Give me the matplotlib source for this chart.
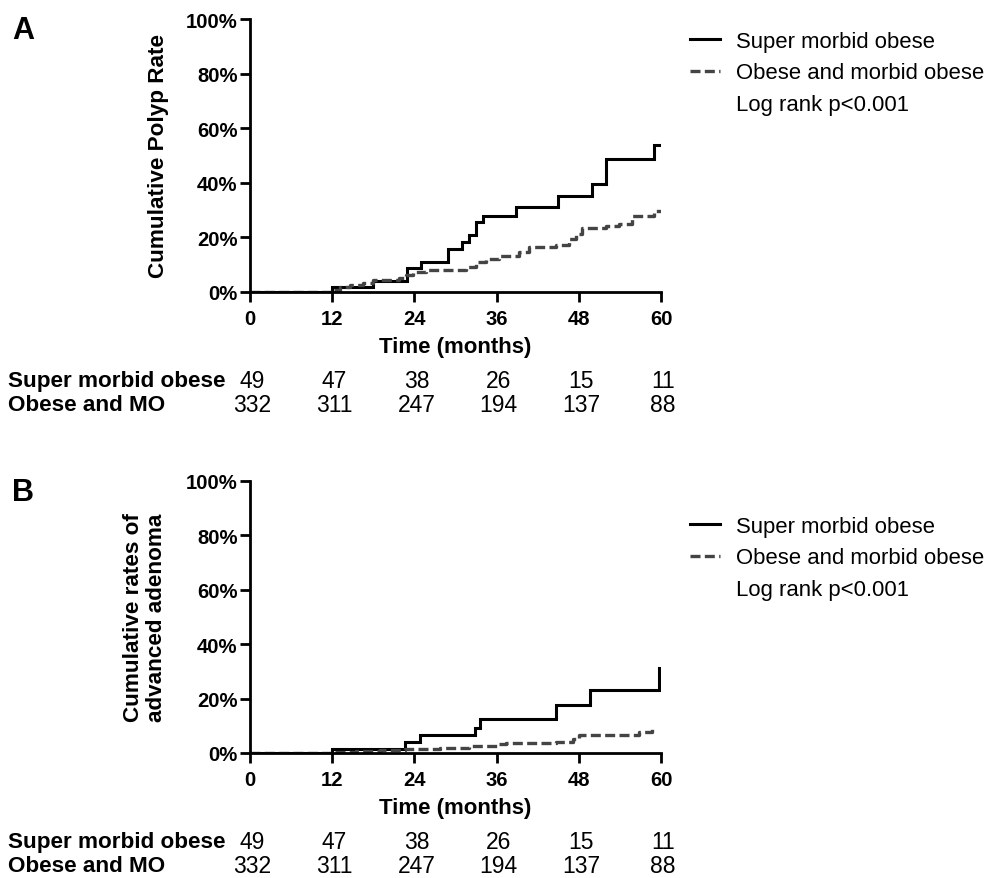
import matplotlib
matplotlib.use("Agg")
import matplotlib.pyplot as plt
from matplotlib.lines import Line2D
from matplotlib.transforms import blended_transform_factory

plt.rcParams['font.family'] = ['Liberation Sans', 'DejaVu Sans']

# Panel A: cumulative polyp rate (%)
a_smo_t = [0, 12, 18.0, 22.9, 24.9, 28.9, 31.0, 31.9, 33.0, 34.0, 38.9, 45.0, 49.9, 51.9, 59.0, 59.8]
a_smo_y = [0, 1.8, 4.0, 8.8, 11.0, 15.7, 18.3, 20.7, 25.5, 28.0, 31.3, 35.2, 39.5, 48.9, 54.0, 54.0]
a_ob_t = [0, 12, 13.1, 14.6, 16.5, 18.0, 21.8, 22.8, 23.8, 25.7, 31.6, 33.0, 34.5, 36.4, 39.3,
          40.8, 44.7, 46.6, 47.6, 48.5, 51.9, 53.9, 55.8, 57.8, 59.0, 60.0]
a_ob_y = [0, 0.9, 1.8, 2.7, 3.4, 4.3, 5.1, 6.3, 7.3, 7.9, 9.1, 11.0, 12.0, 13.2, 14.6,
          16.5, 17.3, 19.5, 21.3, 23.5, 24.0, 25.0, 27.7, 28.0, 29.8, 30.1]

# Panel B: cumulative rates of advanced adenoma (%)
b_smo_t = [0, 12, 22.7, 24.8, 32.8, 33.6, 44.7, 49.7, 59.7, 59.7]
b_smo_y = [0, 1.6, 4.0, 6.5, 9.3, 12.4, 17.5, 23.1, 23.1, 31.3]
b_ob_t = [0, 12, 15.5, 19.0, 22.7, 23.8, 27.7, 32.0, 36.4, 37.4, 44.7, 47.1, 48.1, 54.4,
          56.8, 58.7, 59.0]
b_ob_y = [0, 0.3, 0.6, 1.0, 1.3, 1.6, 2.0, 2.5, 3.2, 3.7, 3.9, 5.0, 6.5, 6.7,
          7.7, 9.0, 9.4]

# numbers at risk
risk_t = [0, 12, 24, 36, 48, 60]
risk_smo = [49, 47, 38, 26, 15, 11]
risk_ob = [332, 311, 247, 194, 137, 88]
risk_names = ["Super morbid obese", "Obese and MO"]

xticks = [0, 12, 24, 36, 48, 60]
yticks = [0, 20, 40, 60, 80, 100]

W, H = 988, 879
fig = plt.figure(figsize=(W / 100, H / 100), dpi=100)
DASH = (3.0, 1.3)


def fx(px):
    return px / W


def fy(py):
    return 1 - py / H


def panel(top, bottom, letter, ylabel, ylab_x, smo_t, smo_y, ob_t, ob_y, legend_top, risk_y):
    ax = fig.add_axes([fx(250), fy(bottom), fx(661) - fx(250), fy(top) - fy(bottom)])
    ax.step(smo_t, smo_y, where='post', color='black', lw=2.2, solid_joinstyle='miter')
    ax.step(ob_t, ob_y, where='post', color='#444444', lw=2.4, dashes=DASH)
    ax.set_xlim(0, 60)
    ax.set_ylim(0, 100)
    ax.set_xticks(xticks)
    ax.set_yticks(yticks)
    ax.set_yticklabels([f"{v}%" for v in yticks])
    for s in ['top', 'right']:
        ax.spines[s].set_visible(False)
    for s in ['left', 'bottom']:
        ax.spines[s].set_linewidth(2)
    ax.tick_params(width=2, length=7, labelsize=14.6)
    ax.tick_params(axis='x', pad=5)
    ax.tick_params(axis='y', pad=2)
    for lab in ax.get_xticklabels() + ax.get_yticklabels():
        lab.set_fontweight('bold')
    ax.set_xlabel("Time (months)", fontsize=16, fontweight='bold', labelpad=6)
    fig.text(fx(ylab_x), (fy(top) + fy(bottom)) / 2, ylabel, rotation=90, ha='center',
             va='center', fontsize=16.2, fontweight='bold', linespacing=1.1)
    fig.text(fx(12), fy(top + 11), letter, fontsize=22, fontweight='bold', va='center')

    handles = [Line2D([], [], color='black', lw=2.2),
               Line2D([], [], color='#444444', lw=2.4, dashes=DASH),
               Line2D([], [], color='none')]
    labels = ["Super morbid obese", "Obese and morbid obese", "Log rank p<0.001"]
    ax.legend(handles, labels, loc='upper left', bbox_to_anchor=(fx(690), fy(legend_top)),
              bbox_transform=fig.transFigure, frameon=False, fontsize=15.9,
              borderpad=0, borderaxespad=0,
              handlelength=1.35, handletextpad=0.75, labelspacing=0.47)

    tr = blended_transform_factory(ax.transData, fig.transFigure)
    for row, (name, vals) in enumerate(zip(risk_names, [risk_smo, risk_ob])):
        yy = fy(risk_y + row * 24)
        fig.text(fx(8), yy, name, fontsize=16.2, fontweight='bold', va='center')
        for t, v in zip(risk_t, vals):
            ax.text(t + 0.3, yy, str(v), transform=tr, ha='center', va='center', fontsize=16.5)
    return ax


panel(20, 293, "A", "Cumulative Polyp Rate", 158, a_smo_t, a_smo_y, a_ob_t, a_ob_y, 32, 382)
panel(482, 754, "B", "Cumulative rates of\nadvanced adenoma", 145, b_smo_t, b_smo_y, b_ob_t, b_ob_y,
      517, 843)

fig.savefig("out.png", dpi=100)
